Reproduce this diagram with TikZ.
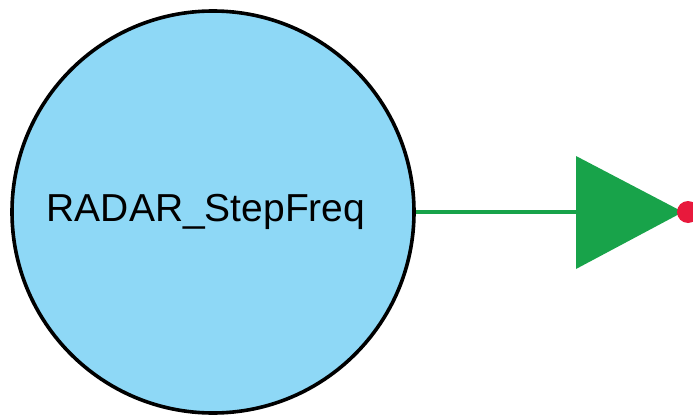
\documentclass[tikz,border=0pt]{standalone}
\usepackage{fontspec}
\setmainfont{Liberation Sans}
\usepackage{tikz}

\definecolor{blockblue}{HTML}{8ED8F6}
\definecolor{wiregreen}{HTML}{18A34A}
\definecolor{portred}{HTML}{E8193C}

\begin{document}
\begin{tikzpicture}[x=1pt,y=1pt]
	\tikzstyle{block}=[circle, draw=black, line width=3.6pt, fill=blockblue, minimum size=402pt, inner sep=0pt]
	\tikzstyle{wire}=[draw=wiregreen, line width=3.4pt]
	\useasboundingbox (0,0) rectangle (693,416);
	\node[block] (freq) at (213,204) {};
	\node[font=\fontsize{39}{47}\selectfont] (freqname) at (206,204) {RADAR\_StepFreq};
	\coordinate (ampin) at (577,204);
	\coordinate (ampout) at (683,204);
	\draw[wire] (freq.east) -- (ampin);
	\fill[wiregreen] (576,260) -- (ampout) -- (576,147) -- cycle;
	\fill[portred] (688,204) circle (11);
\end{tikzpicture}
\end{document}
